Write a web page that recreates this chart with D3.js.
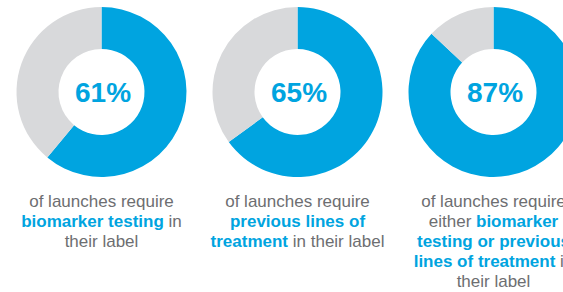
<!DOCTYPE html>
<html>
<head>
<meta charset="utf-8">
<script src="https://cdn.jsdelivr.net/npm/d3@7"></script>
<style>
  html, body { margin: 0; padding: 0; background: #ffffff; overflow: hidden; }
  svg { display: block; font-family: "Liberation Sans", Arial, sans-serif; }
</style>
</head>
<body>
<svg id="chart" width="563" height="292"></svg>
<script>
// ---- data ----
const categories = ["biomarker testing", "previous lines of treatment", "biomarker testing or previous lines of treatment"];
const percentValues = [61, 65, 87];
const percentLabels = ["61%", "65%", "87%"];
// caption lines: each line is a list of [text, isBold]
const captionLines = [
  [
    [["of launches require", false]],
    [["biomarker testing", true], [" in", false]],
    [["their label", false]]
  ],
  [
    [["of launches require", false]],
    [["previous lines of", true]],
    [["treatment", true], [" in their label", false]]
  ],
  [
    [["of launches require", false]],
    [["either ", false], ["biomarker", true]],
    [["testing or previous", true]],
    [["lines of treatment", true], [" in", false]],
    [["their label", false]]
  ]
];

// ---- style ----
const BLUE = "#00a4e0";
const GREY = "#d8d9db";
const TEXT_GREY = "#6d6e71";

const svg = d3.select("#chart");

const xScale = d3.scalePoint().domain(categories).range([101.5, 493.5]);
const cy = 92;
const outerR = 85;
const innerR = 43;

const pie = d3.pie().sort(null).value(d => d);
const arc = d3.arc().innerRadius(innerR).outerRadius(outerR);
const colorScale = d3.scaleOrdinal().domain([0, 1]).range([BLUE, GREY]);

categories.forEach((cat, i) => {
  const cx = xScale(cat);
  const g = svg.append("g").attr("transform", `translate(${cx},${cy})`);
  const v = percentValues[i];
  g.selectAll("path")
    .data(pie([v, 100 - v]))
    .join("path")
    .attr("d", arc)
    .attr("fill", (d, j) => colorScale(j));

  g.append("text")
    .attr("x", 1.5)
    .attr("y", 10)
    .attr("text-anchor", "middle")
    .attr("font-size", 28)
    .attr("font-weight", "bold")
    .attr("fill", BLUE)
    .text(percentLabels[i]);

  const lines = captionLines[i];
  lines.forEach((segs, li) => {
    const t = svg.append("text")
      .attr("x", cx)
      .attr("y", 207 + li * 20)
      .attr("text-anchor", "middle")
      .attr("font-size", 17);
    segs.forEach(([txt, bold]) => {
      t.append("tspan")
        .attr("font-weight", bold ? "bold" : "normal")
        .attr("fill", bold ? BLUE : TEXT_GREY)
        .attr("xml:space", "preserve")
        .style("white-space", "pre")
        .text(txt);
    });
  });
});
</script>
</body>
</html>
